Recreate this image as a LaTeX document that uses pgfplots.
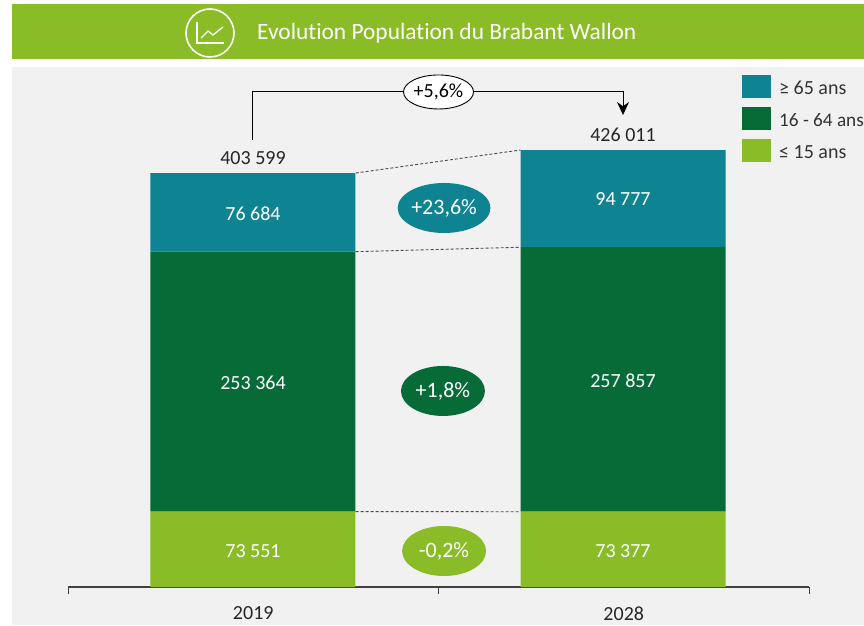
\documentclass[border=0pt]{standalone}
\usepackage{fontspec}
\setmainfont[Ligatures=NoCommon]{Carlito}
\usepackage{pgfplots}
\pgfplotsset{compat=1.18}
\usetikzlibrary{arrows.meta,shapes.geometric}
\definecolor{lg}{HTML}{89BC26}
\definecolor{dg}{HTML}{076B38}
\definecolor{tl}{HTML}{0E8392}
\definecolor{bgc}{HTML}{F1F1F1}
\tikzset{lbl/.style={font=\fontsize{20}{20}\selectfont,inner sep=0pt},
  bdg/.style={font=\fontsize{22}{22}\selectfont,inner sep=0pt,ellipse,minimum width=84pt,minimum height=50pt,text=white}}
\begin{document}
\begin{tikzpicture}[x=1pt,y=1pt]
\path[use as bounding box,clip] (0,0) rectangle (864,625);
\fill[white] (0,0) rectangle (864,625);
\fill[bgc] (12,0) rectangle (864,558);
\fill[lg] (12,566) rectangle (864,621);
\draw[white,line width=1.6pt] (210,592) circle (24);
\draw[white,line width=1.3pt] (197,603)--(197,582)--(224,582);
\draw[white,line width=1.3pt] (201,587)--(208,594)--(213,590)--(223,598);
\node[white,anchor=west,font=\fontsize{23.4}{23.4}\selectfont,inner sep=0pt] at (257,592) {Evolution Population du Brabant Wallon};
\begin{axis}[
  at={(68pt,38pt)},anchor=south west,scale only axis,width=741pt,height=450pt,
  xmin=0,xmax=2,ymin=0,ymax=438705,clip=false,
  axis y line=none,axis x line=bottom,
  axis line style={-,color=black!75,line width=1.2pt},
  ybar stacked,bar width=205pt,
  xtick={0,1,2},xticklabels={},
  tick align=outside,major tick length=7pt,
  tick style={color=black!75,line width=1pt},
  extra x ticks={0.5,1.5},extra x tick labels={2019,2028},
  extra x tick style={major tick length=0pt,tick label style={yshift=-16pt}},
  tick label style={font=\fontsize{20}{20}\selectfont,text=black!85},
  legend style={at={(674pt,512pt)},anchor=north west,draw=none,fill=none,
    font=\fontsize{20}{20}\selectfont,text=black!80,row sep=9pt,inner sep=0pt,
    legend cell align=left},
  reverse legend,
  legend image code/.code={\fill[#1] (0pt,-9.5pt) rectangle (29pt,13.5pt);},
]
\addplot+[ybar,draw=none,fill=lg] coordinates {(0.4993,73551) (1.498,73377)};
\addplot+[ybar,draw=none,fill=dg] coordinates {(0.4993,253364) (1.498,257857)};
\addplot+[ybar,draw=none,fill=tl] coordinates {(0.4993,76684) (1.498,94777)};
\legend{\hspace*{6pt}≤ 15 ans,\hspace*{6pt}{\fontsize{19.2}{20}\selectfont 16 - 64 ans},\hspace*{6pt}≥ 65 ans}
\end{axis}
\begin{axis}[
  at={(68pt,38pt)},anchor=south west,scale only axis,width=741pt,height=450pt,
  xmin=0,xmax=2,ymin=0,ymax=438705,clip=false,hide axis,
]
% connectors between the bars
\addplot[densely dashed,color=black!70,line width=0.9pt] coordinates {(0.7766,73551) (1.2215,73377)};
\addplot[densely dashed,color=black!70,line width=0.9pt] coordinates {(0.7766,326915) (1.2215,331234)};
\addplot[densely dashed,color=black!70,line width=0.9pt] coordinates {(0.7766,403599) (1.2215,426011)};
% total change bracket
\addplot[black,line width=1pt,-{Stealth[length=13pt,width=12pt]}] coordinates {(0.4993,435780) (0.4993,483550) (1.498,483550) (1.498,460150)};
\node[ellipse,draw=black,fill=white,line width=0.9pt,minimum width=69pt,minimum height=34pt,inner sep=0pt,text=black,font=\fontsize{20}{20}\selectfont] at (axis cs:1.0,482600) {+5,6\%};
% totals
\node[lbl,text=black!85] at (axis cs:0.4993,418000) {403 599};
\node[lbl,text=black!85] at (axis cs:1.498,441000) {426 011};
% segment values
\node[lbl,white] at (axis cs:0.4993,363650) {76 684};
\node[lbl,white] at (axis cs:0.4993,198900) {253 364};
\node[lbl,white] at (axis cs:0.4993,35000) {73 551};
\node[lbl,white] at (axis cs:1.498,378300) {94 777};
\node[lbl,white] at (axis cs:1.498,200800) {257 857};
\node[lbl,white] at (axis cs:1.498,35000) {73 377};
% change badges
\node[bdg,fill=tl] at (axis cs:1.015,369500) {+23,6\%};
\node[bdg,fill=dg] at (axis cs:1.012,191100) {+1,8\%};
\node[bdg,fill=lg] at (axis cs:1.015,35100) {-0,2\%};
\end{axis}
\end{tikzpicture}
\end{document}
